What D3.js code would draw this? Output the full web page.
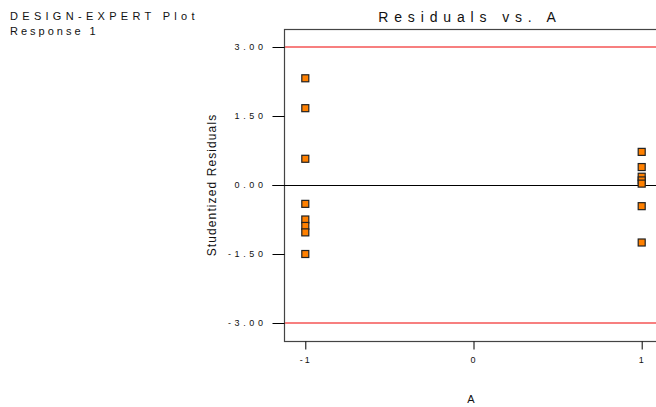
<!DOCTYPE html>
<html><head><meta charset="utf-8">
<script src="https://cdn.jsdelivr.net/npm/d3@7"></script>
<style>body{margin:0;background:#fff}svg{display:block}text{font-family:"Liberation Sans",Arial,sans-serif;fill:#111}</style>
</head><body>
<script>
const xLevels = [-1, 1];
const residualsLow = [2.32, 1.67, 0.57, -0.41, -0.75, -0.89, -1.03, -1.50];
const residualsHigh = [0.72, 0.39, 0.18, 0.10, 0.03, -0.46, -1.25];
const yTicks = [-3, -1.5, 0, 1.5, 3];
const xTicks = [-1, 0, 1];
const limits = [3, -3];

(function () {
const W = 656, H = 407;
const svg = d3.select("body").append("svg").attr("width", W).attr("height", H);
const mLeft = 284.5, mTop = 29.5, mBottom = 341.5, mRight = 700;
const x = d3.scaleLinear().domain([-1, 1]).range([305.3, 641.7]);
const y = d3.scaleLinear().domain([-3, 3]).range([323, 47]);
const crisp = v => Math.round(v) + 0.5;
const hy = s => s.replace("\u2212", "-");

const pts = residualsLow.map(v => ({a: xLevels[0], r: v}))
  .concat(residualsHigh.map(v => ({a: xLevels[1], r: v})));

// frame
svg.append("rect").attr("x", mLeft).attr("y", mTop).attr("width", mRight - mLeft).attr("height", mBottom - mTop)
  .attr("fill", "none").attr("stroke", "#444").attr("stroke-width", 1.2);

// limit lines
svg.selectAll(".lim").data(limits).enter().append("line")
  .attr("x1", mLeft + 0.6).attr("x2", W).attr("y1", d => y(d)).attr("y2", d => y(d))
  .attr("stroke", "#f00000").attr("stroke-width", 1.1);
// zero line
svg.append("line").attr("x1", mLeft - 12).attr("x2", W).attr("y1", crisp(y(0))).attr("y2", crisp(y(0)))
  .attr("stroke", "#000").attr("stroke-width", 1);

// y axis
const yAxis = d3.axisLeft(y).tickValues(yTicks).tickSize(12).tickFormat(d => hy(d3.format(".2f")(d)));
const gy = svg.append("g").attr("transform", `translate(${mLeft},0)`).call(yAxis);
gy.select(".domain").remove();
gy.selectAll(".tick").attr("transform", d => `translate(0,${crisp(y(d))})`);
gy.selectAll(".tick line").attr("stroke", "#000");
gy.selectAll(".tick text").attr("x", -18).attr("font-size", 9).attr("letter-spacing", 3.6)
  .style("font-family", '"Liberation Sans",Arial,sans-serif').attr("fill", "#222");

// x axis
const xAxis = d3.axisBottom(x).tickValues(xTicks).tickSize(8).tickFormat(d => hy(d3.format("d")(d)));
const gx = svg.append("g").attr("transform", `translate(0,${mBottom})`).call(xAxis);
gx.select(".domain").remove();
gx.selectAll(".tick line").attr("stroke", "#000");
gx.selectAll(".tick text").attr("y", 15).attr("font-size", 9).attr("letter-spacing", 2)
  .style("font-family", '"Liberation Sans",Arial,sans-serif').attr("fill", "#222");

// points
svg.selectAll(".pt").data(pts).enter().append("rect")
  .attr("x", d => x(d.a) - 3.5).attr("y", d => y(d.r) - 3.5)
  .attr("width", 7).attr("height", 7)
  .attr("fill", "#ff8000").attr("stroke", "#222").attr("stroke-width", 1.2);

// texts
svg.append("text").attr("x", 10).attr("y", 20).attr("font-size", 11).attr("letter-spacing", 4.3)
  .text("DESIGN-EXPERT Plot");
svg.append("text").attr("x", 10).attr("y", 35).attr("font-size", 11).attr("letter-spacing", 3)
  .text("Response 1");
svg.append("text").attr("x", 470).attr("y", 22).attr("font-size", 14).attr("letter-spacing", 5.85)
  .attr("text-anchor", "middle").text("Residuals vs. A");
svg.append("text").attr("transform", "translate(216,185) rotate(-90)").attr("font-size", 12)
  .attr("letter-spacing", 1.1).attr("text-anchor", "middle").text("Studentized Residuals");
svg.append("text").attr("x", 471).attr("y", 403).attr("font-size", 11)
  .attr("text-anchor", "middle").text("A");
})();
</script>
</body></html>
